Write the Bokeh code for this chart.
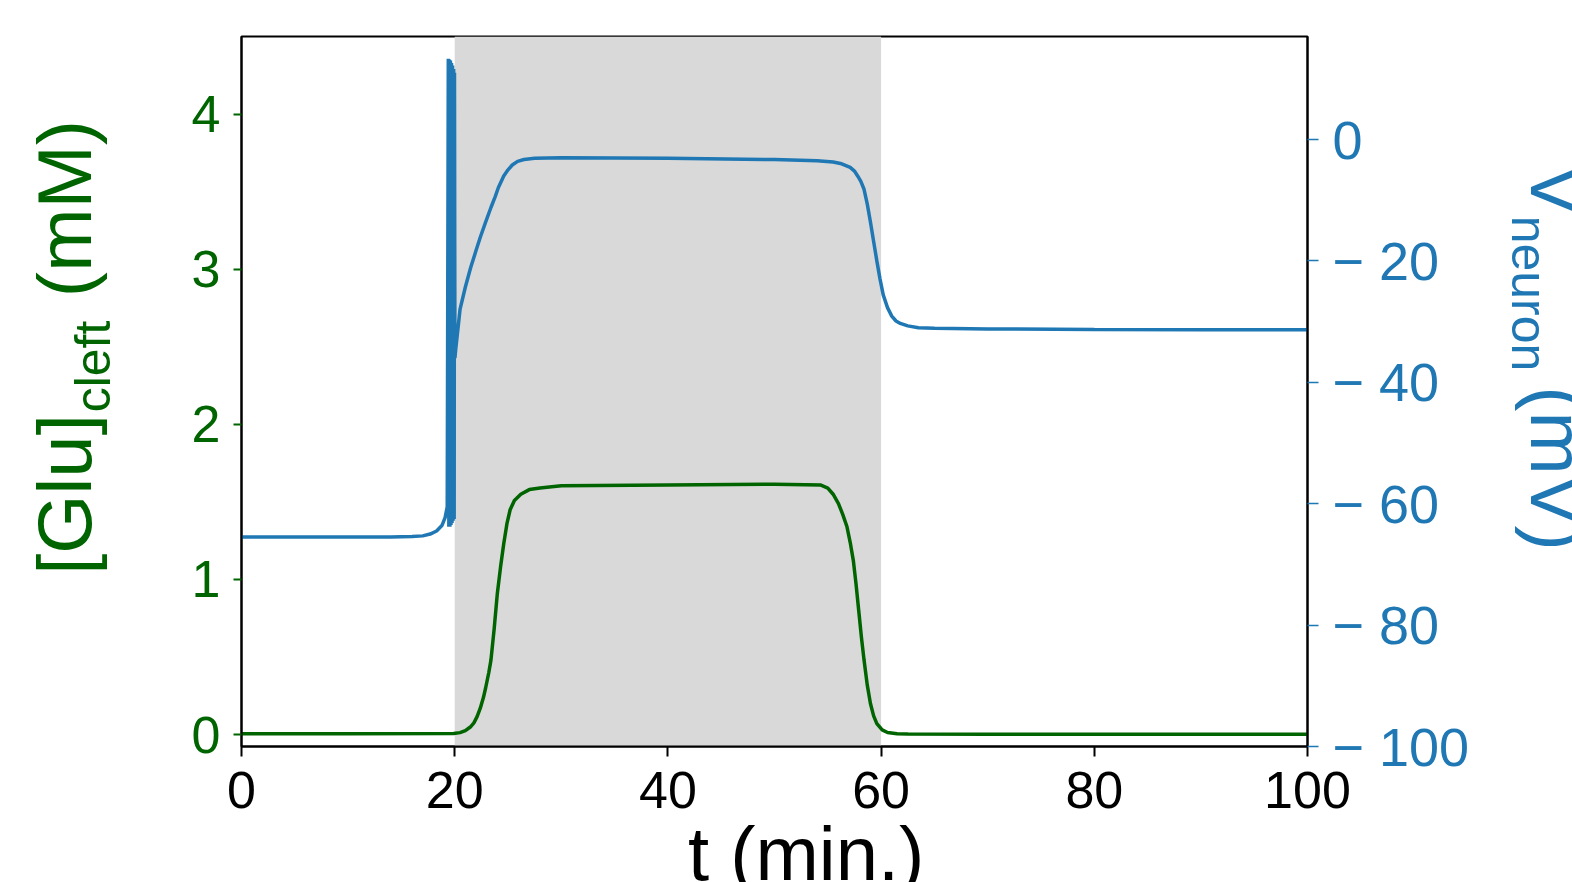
from bokeh.plotting import figure
from bokeh.models import Range1d, LinearAxis, BoxAnnotation, FixedTicker
from bokeh.embed import file_html
from bokeh.resources import INLINE

# ---------------- data ----------------
x_ticks = [0, 20, 40, 60, 80, 100]
glu_ticks = [0, 1, 2, 3, 4]
v_ticks = [-100, -80, -60, -40, -20, 0]
v_tick_labels = ["\u2212 100", "\u2212 80", "\u2212 60", "\u2212 40", "\u2212 20", "0"]

stim_start = 20
stim_end = 60

glu_t = [0, 10, 19.9, 20.5, 21.0, 21.5, 21.8, 22.1, 22.4, 22.7, 22.9, 23.2, 23.4, 23.7,
         24.0, 24.3, 24.6, 24.9, 25.2, 25.6, 26.2, 27.0, 28.0, 30.0, 40.0, 50.0, 54.3,
         55.0, 55.5, 56.0, 56.4, 56.8, 57.1, 57.4, 57.65, 57.9, 58.15, 58.4, 58.7,
         59.0, 59.3, 59.6, 60.1, 60.6, 61.5, 62.5, 70.0, 100.0]
glu_mM = [0.005, 0.005, 0.006, 0.012, 0.025, 0.05, 0.075, 0.115, 0.17, 0.24, 0.30, 0.40,
          0.48, 0.68, 0.91, 1.08, 1.23, 1.36, 1.45, 1.51, 1.55, 1.58, 1.59, 1.605, 1.61,
          1.615, 1.61, 1.59, 1.55, 1.49, 1.42, 1.34, 1.24, 1.12, 0.97, 0.80, 0.63, 0.48,
          0.32, 0.20, 0.12, 0.07, 0.03, 0.013, 0.005, 0.003, 0.002, 0.002]

v_t = [0, 5, 10, 14, 16, 17, 17.7, 18.3, 18.8, 19.1, 19.3,
       19.40, 19.45, 19.50, 19.55, 19.60, 19.65, 19.70, 19.75, 19.80, 19.85,
       19.90, 19.95, 19.98, 20.02,
       20.1, 20.5, 21.0, 21.5, 22.0, 22.4, 22.9, 23.4, 23.8, 24.1, 24.6, 25.0, 25.4,
       25.9, 26.5, 27.5, 30,
       40, 50, 54, 55.5, 56.3, 57.1, 57.5, 57.8, 58.1, 58.4, 58.7, 59.0, 59.3, 59.6,
       59.9, 60.2, 60.6, 61.0, 61.4, 61.8, 62.5, 63.5, 65, 70, 80, 90, 100]
v_mV = [-65.5, -65.5, -65.5, -65.5, -65.4, -65.3, -65.0, -64.5, -63.6, -62.3, -60.5,
        13.3, -63.8, 13.2, -63.8, 13.0, -63.5, 12.6, -63.2, 12.2, -62.8,
        11.6, -62.5, 11.0, -36.0,
        -34.5, -28.0, -24.3, -21.1, -18.3, -16.1, -13.6, -11.2, -9.4, -7.9, -6.0, -5.0, -4.2,
        -3.6, -3.3, -3.1, -3.0,
        -3.1, -3.3, -3.5, -3.7, -4.0, -4.6, -5.2, -6.0, -6.9, -8.2, -10.6, -13.6, -16.8, -20.0,
        -23.0, -25.6, -27.7, -29.1, -29.9, -30.3, -30.7, -31.0, -31.1, -31.2, -31.3, -31.35,
        -31.35]

# axis-title pieces: text and the row (in page pixels) of each piece's centre
glu_title = {494: "[Glu]", 208: "(mM)"}
glu_sub = {366: "cleft"}
v_title = {190: "V", 468: "(mV)"}
v_sub = {293: "neuron"}

GREEN = "#006400"
BLUE = "#1f77b4"
FONT = "Liberation Sans"

p = figure(output_backend="svg", toolbar_location=None,
           frame_width=1066, frame_height=710,
           x_range=Range1d(0, 100), y_range=Range1d(-0.0774, 4.503),
           min_border_left=241, min_border_right=265, min_border_top=36,
           min_border_bottom=136)
p.extra_y_ranges = {"v": Range1d(-100, 16.97), "px": Range1d(746, 36)}
p.xgrid.visible = False
p.ygrid.visible = False
p.outline_line_color = "black"
p.outline_line_width = 2
p.background_fill_color = "white"
p.border_fill_color = "white"

p.add_layout(BoxAnnotation(left=stim_start, right=stim_end, fill_color="#d9d9d9",
                           fill_alpha=1.0, line_color=None, level="underlay"))

p.line(glu_t, glu_mM, color=GREEN, line_width=3.5)
p.line(v_t, v_mV, color=BLUE, line_width=3.5, y_range_name="v")

# x axis
xa = p.xaxis[0]
xa.ticker = FixedTicker(ticks=x_ticks)
xa.minor_tick_line_color = None
xa.major_tick_in = 0
xa.major_tick_out = 10
xa.major_tick_line_width = 2
xa.axis_line_width = 2
xa.major_label_text_font = FONT
xa.major_label_text_font_size = "52px"
xa.major_label_text_color = "black"
xa.major_label_standoff = 15
xa.axis_label = "\u00a0\u00a0\u00a0t (min.)"
xa.axis_label_text_font = FONT
xa.axis_label_text_font_size = "76px"
xa.axis_label_text_font_style = "normal"
xa.axis_label_text_color = "black"
xa.axis_label_standoff = 0

# left axis
ya = p.yaxis[0]
ya.ticker = FixedTicker(ticks=glu_ticks)
ya.minor_tick_line_color = None
ya.major_tick_in = 0
ya.major_tick_out = 8
ya.major_tick_line_width = 2
ya.major_tick_line_color = GREEN
ya.axis_line_width = 2
ya.axis_line_color = "black"
ya.major_label_text_font = FONT
ya.major_label_text_font_size = "52px"
ya.major_label_text_color = GREEN
ya.major_label_standoff = 13

# right axis
ra = LinearAxis(y_range_name="v", ticker=FixedTicker(ticks=v_ticks))
ra.major_label_overrides = {t: s for t, s in zip(v_ticks, v_tick_labels)}
ra.minor_tick_line_color = None
ra.major_tick_in = 0
ra.major_tick_out = 11
ra.major_tick_line_width = 1.5
ra.major_tick_line_color = BLUE
ra.axis_line_width = 2
ra.axis_line_color = "black"
ra.major_label_text_font = FONT
ra.major_label_text_font_size = "54px"
ra.major_label_text_color = BLUE
ra.major_label_standoff = 14
p.add_layout(ra, "right")


def title_axis(pieces, size, color, standoff, side):
    ax = LinearAxis(y_range_name="px", ticker=FixedTicker(ticks=list(pieces.keys())))
    ax.major_label_overrides = dict(pieces)
    ax.major_label_orientation = "vertical"
    ax.axis_line_color = None
    ax.major_tick_line_color = None
    ax.minor_tick_line_color = None
    ax.major_tick_in = 0
    ax.major_tick_out = 0
    ax.major_label_standoff = standoff
    ax.major_label_text_font = FONT
    ax.major_label_text_font_size = size
    ax.major_label_text_color = color
    p.add_layout(ax, side)


title_axis(glu_sub, "50px", GREEN, 68, "left")
title_axis(glu_title, "76px", GREEN, -45, "left")
title_axis(v_sub, "50px", BLUE, 28, "right")
title_axis(v_title, "76px", BLUE, -45, "right")

open("out.html", "w").write(file_html(p, INLINE))
